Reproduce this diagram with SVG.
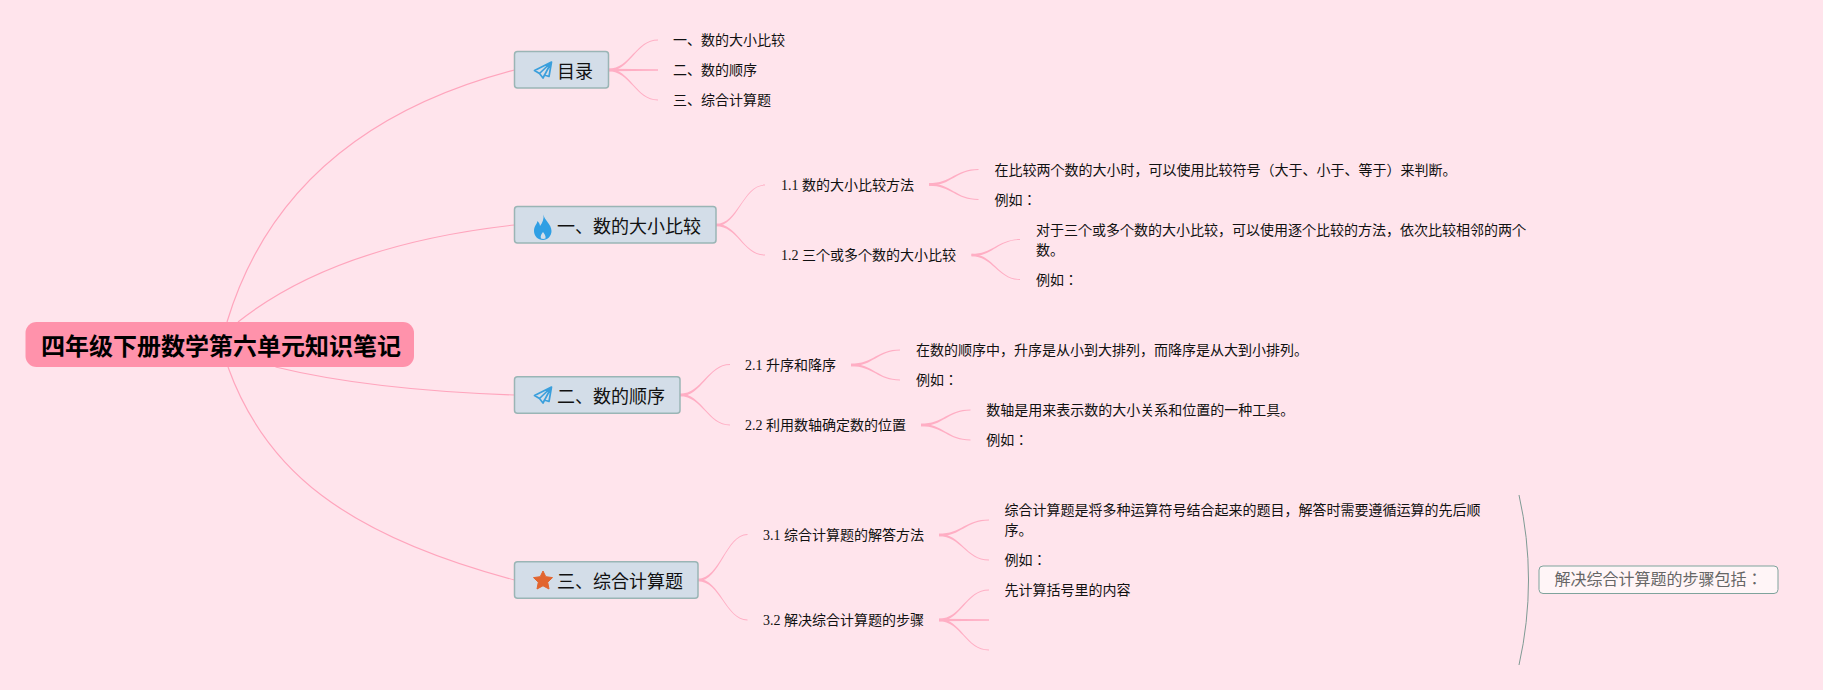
<svg xmlns="http://www.w3.org/2000/svg" width="1823" height="690" viewBox="0 0 1823 690">
<style>
text{font-family:"Liberation Serif","Noto Sans CJK JP","Noto Sans CJK SC",serif;dominant-baseline:central;fill:#111}
.t{font-size:14px}
.b{font-size:18px;font-family:"Noto Sans CJK JP","Noto Sans CJK SC",sans-serif}
.box{fill:#d3dde8;stroke:#9ab5b5;stroke-width:1.5}
.r{fill:none;stroke:#ffa5bd;stroke-width:1.2}
.f{fill:#ffaec4}
</style>
<rect width="1823" height="690" fill="#ffe4ec"/>
<g id="connectors">
<path class="r" d="M227,322Q285,130 514.5,70"/>
<path class="r" d="M238,322Q335,245 514.5,225"/>
<path class="r" d="M275.5,367Q370,390 514.5,395"/>
<path class="r" d="M228,367C265,470 345,535 514.5,580"/>
<path class="f" d="M608.5,68.8C630,68.8 636,39.6 658,39.6V40.4C636,40.4 630,71.2 608.5,71.2Z"/>
<path class="f" d="M608.5,68.8L658,69.2V70.8L608.5,71.2Z"/>
<path class="f" d="M608.5,68.8C630,68.8 636,99.6 658,99.6V100.4C636,100.4 630,71.2 608.5,71.2Z"/>
<path class="f" d="M716,223.8C738,223.8 743,184.6 765,184.6V185.4C743,185.4 738,226.2 716,226.2Z"/>
<path class="f" d="M716,223.8C738,223.8 743,254.6 765,254.6V255.4C743,255.4 738,226.2 716,226.2Z"/>
<path class="f" d="M929,183.3C951,183.3 956,169.1 978.5,169.1V169.9C956,169.9 951,185.7 929,185.7Z"/>
<path class="f" d="M929,183.3C951,183.3 956,199.1 978.5,199.1V199.9C956,199.9 951,185.7 929,185.7Z"/>
<path class="f" d="M971.5,253.8C993,253.8 998,239.1 1020,239.1V239.9C998,239.9 993,256.2 971.5,256.2Z"/>
<path class="f" d="M971.5,253.8C993,253.8 998,279.1 1020,279.1V279.9C998,279.9 993,256.2 971.5,256.2Z"/>
<path class="f" d="M680,393.8C702,393.8 708,364.1 730,364.1V364.9C708,364.9 702,396.2 680,396.2Z"/>
<path class="f" d="M680,393.8C702,393.8 708,424.6 730,424.6V425.4C708,425.4 702,396.2 680,396.2Z"/>
<path class="f" d="M851,363.8C873,363.8 878,349.6 900,349.6V350.4C878,350.4 873,366.2 851,366.2Z"/>
<path class="f" d="M851,363.8C873,363.8 878,379.6 900,379.6V380.4C878,380.4 873,366.2 851,366.2Z"/>
<path class="f" d="M921,423.8C943,423.8 948,409.6 970.5,409.6V410.4C948,410.4 943,426.2 921,426.2Z"/>
<path class="f" d="M921,423.8C943,423.8 948,439.6 970.5,439.6V440.4C948,440.4 943,426.2 921,426.2Z"/>
<path class="f" d="M698,578.8C720,578.8 726,534.1 747.5,534.1V534.9C726,534.9 720,581.2 698,581.2Z"/>
<path class="f" d="M698,578.8C720,578.8 726,619.6 747.5,619.6V620.4C726,620.4 720,581.2 698,581.2Z"/>
<path class="f" d="M939,533.8C961,533.8 966,519.6 989,519.6V520.4C966,520.4 961,536.2 939,536.2Z"/>
<path class="f" d="M939,533.8C961,533.8 966,559.6 989,559.6V560.4C966,560.4 961,536.2 939,536.2Z"/>
<path class="f" d="M939,618.8C961,618.8 966,589.6 989,589.6V590.4C966,590.4 961,621.2 939,621.2Z"/>
<path class="f" d="M939,618.8L989,619.2V620.8L939,621.2Z"/>
<path class="f" d="M939,618.8C961,618.8 966,649.6 989,649.6V650.4C966,650.4 961,621.2 939,621.2Z"/>
<path d="M1519,495Q1538,580 1519,665" fill="none" stroke="#7f9a94" stroke-width="1"/>
</g>
<g id="root"><rect x="25.5" y="322" width="388.5" height="45" rx="11" fill="#ff92ab"/><text x="41" y="344.5" style="font-size:24px;font-weight:700;font-family:'Noto Sans CJK JP','Noto Sans CJK SC',sans-serif;fill:#000">四年级下册数学第六单元知识笔记</text></g>
<g id="n0"><rect class="box" x="514.5" y="51.5" width="94" height="36.5" rx="3"/><path d="M551.5,62L534.5,70.5L539.5,73.5L543,78L544.5,75L549,76.5ZM551.5,62L539.5,73.5M551.5,62L543,78" fill="none" stroke="#3a9fdc" stroke-width="1.7" stroke-linejoin="round"/><text class="b" x="557" y="70">目录</text></g>
<g id="n1"><rect class="box" x="514.5" y="206.5" width="201.5" height="36.5" rx="3"/><path d="M543.5,214.5C544,220 551.5,224 551.5,231C551.5,236 547.5,240 543,240C538,240 534,236 534,231C534,226 537,224 537.5,221C539,222.5 539.8,224 540,226C542.5,223 544,219 543.5,214.5ZM543,232C541.5,234 540,236 541,238.5C542,239 544.5,239 545.5,238.5C546,236 544.5,234 543,232Z" fill="#2f9fe4" fill-rule="evenodd"/><text class="b" x="557" y="224.5">一、数的大小比较</text></g>
<g id="n2"><rect class="box" x="514.5" y="376.7" width="165.5" height="36.5" rx="3"/><path d="M551.5,387L534.5,395.5L539.5,398.5L543,403L544.5,400L549,401.5ZM551.5,387L539.5,398.5M551.5,387L543,403" fill="none" stroke="#3a9fdc" stroke-width="1.7" stroke-linejoin="round"/><text class="b" x="557" y="394.5">二、数的顺序</text></g>
<g id="n3"><rect class="box" x="514.5" y="561.7" width="183.5" height="36.5" rx="3"/><path d="M543,571L545.8,576.7L552.5,577.6L547.7,582.2L549,589L543,585.8L537,589L538.3,582.2L533.5,577.6L540.2,576.7Z" fill="#e2652f" stroke="#e2652f" stroke-linejoin="round"/><text class="b" x="557" y="579.5">三、综合计算题</text></g>
<g id="n0-1"><text class="t" x="673" y="40.5">一、数的大小比较</text></g>
<g id="n0-2"><text class="t" x="673" y="70.5">二、数的顺序</text></g>
<g id="n0-3"><text class="t" x="673" y="100.5">三、综合计算题</text></g>
<g id="n1-1"><text class="t" x="781" y="185">1.1 数的大小比较方法</text></g>
<g id="n1-2"><text class="t" x="781" y="255">1.2 三个或多个数的大小比较</text></g>
<g id="n1-1-1"><text class="t" x="994.5" y="170">在比较两个数的大小时，可以使用比较符号（大于、小于、等于）来判断。</text></g>
<g id="n1-1-2"><text class="t" x="994.5" y="200">例如：</text></g>
<g id="n1-2-1"><text class="t" x="1036" y="230">对于三个或多个数的大小比较，可以使用逐个比较的方法，依次比较相邻的两个</text><text class="t" x="1036" y="250">数。</text></g>
<g id="n1-2-2"><text class="t" x="1036" y="280">例如：</text></g>
<g id="n2-1"><text class="t" x="745" y="365">2.1 升序和降序</text></g>
<g id="n2-2"><text class="t" x="745" y="425">2.2 利用数轴确定数的位置</text></g>
<g id="n2-1-1"><text class="t" x="916" y="350">在数的顺序中，升序是从小到大排列，而降序是从大到小排列。</text></g>
<g id="n2-1-2"><text class="t" x="916" y="380">例如：</text></g>
<g id="n2-2-1"><text class="t" x="986.3" y="410">数轴是用来表示数的大小关系和位置的一种工具。</text></g>
<g id="n2-2-2"><text class="t" x="986.3" y="440">例如：</text></g>
<g id="n3-1"><text class="t" x="763" y="535">3.1 综合计算题的解答方法</text></g>
<g id="n3-2"><text class="t" x="763" y="620">3.2 解决综合计算题的步骤</text></g>
<g id="n3-1-1"><text class="t" x="1004.5" y="510">综合计算题是将多种运算符号结合起来的题目，解答时需要遵循运算的先后顺</text><text class="t" x="1004.5" y="530">序。</text></g>
<g id="n3-1-2"><text class="t" x="1004.5" y="560">例如：</text></g>
<g id="n3-2-1"><text class="t" x="1004.5" y="590">先计算括号里的内容</text></g>
<g id="summary"><rect x="1539" y="566" width="239" height="27.5" rx="4" fill="#fff5f7" stroke="#7fa39c"/><text x="1554.5" y="579" style="font-size:16px;fill:#666">解决综合计算题的步骤包括：</text></g>
</svg>
